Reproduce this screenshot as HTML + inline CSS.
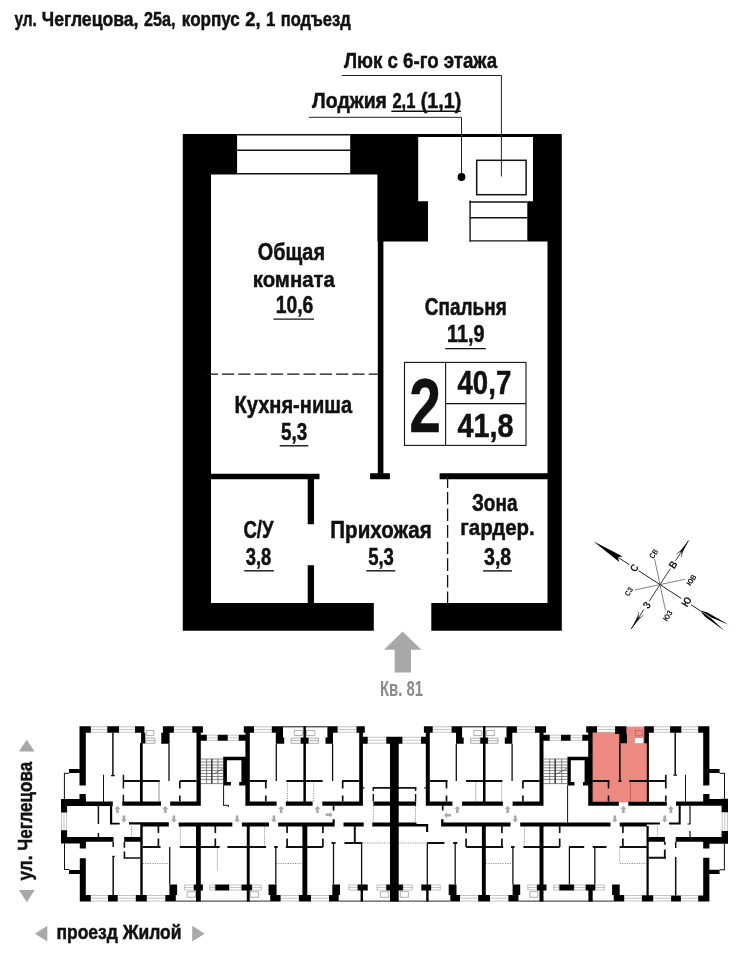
<!DOCTYPE html>
<html lang="ru"><head><meta charset="utf-8"><title>План квартиры 81</title>
<style>
html,body{margin:0;padding:0;background:#fff;}
svg{display:block;will-change:transform;}
text{font-family:'Liberation Sans', sans-serif;font-weight:bold;}
</style></head><body>
<svg width="744" height="960" viewBox="0 0 744 960">
<rect width="744" height="960" fill="#fff"/>
<g fill="#000">
<path d="M182.80,134.00H211.00V630.80H182.80ZM182.80,134.00H237.10V174.40H182.80ZM350.20,134.00H418.20V174.40H350.20ZM377.40,174.40H418.20V201.20H377.40ZM377.40,201.20H428.00V241.50H377.40ZM377.80,241.50H383.40V479.30H377.80ZM370.10,473.30H389.90V479.30H370.10ZM418.20,134.00H561.80V137.10H418.20ZM533.00,134.00H561.80V201.20H533.00ZM527.30,201.20H561.80V241.50H527.30ZM547.50,241.50H561.80V630.80H547.50ZM211.00,473.70H319.50V479.30H211.00ZM307.70,479.30H314.00V524.30H307.70ZM307.70,565.20H314.00V603.00H307.70ZM439.60,473.30H548.00V479.30H439.60ZM182.80,603.00H373.80V630.80H182.80ZM431.30,603.00H561.80V630.80H431.30Z"/>
</g>
<line x1="237.10" y1="134.70" x2="350.20" y2="134.70" stroke="#111" stroke-width="1.4"/>
<line x1="237.10" y1="150.20" x2="350.20" y2="150.20" stroke="#111" stroke-width="1.4"/>
<line x1="237.10" y1="173.80" x2="350.20" y2="173.80" stroke="#111" stroke-width="1.4"/>
<line x1="469.50" y1="202.00" x2="527.30" y2="202.00" stroke="#111" stroke-width="1.5"/>
<line x1="469.50" y1="217.80" x2="527.30" y2="217.80" stroke="#111" stroke-width="1.5"/>
<line x1="469.50" y1="240.90" x2="527.30" y2="240.90" stroke="#111" stroke-width="1.3"/>
<line x1="470.10" y1="200.50" x2="470.10" y2="241.50" stroke="#111" stroke-width="1.4"/>
<rect x="476.7" y="160.3" width="49.4" height="34.4" fill="none" stroke="#111" stroke-width="1.5"/>
<polyline points="341.8,75.5 501.4,75.5 501.4,176.5" fill="none" stroke="#222" stroke-width="1"/>
<polyline points="309,117.3 461.5,117.3 461.5,177" fill="none" stroke="#222" stroke-width="1"/>
<circle cx="461.5" cy="177" r="3.9" fill="#000"/>
<line x1="205.70" y1="374.10" x2="377.80" y2="374.10" stroke="#111" stroke-width="1.3" stroke-dasharray="12.2 4.1"/>
<line x1="447.60" y1="475.30" x2="447.60" y2="603.00" stroke="#111" stroke-width="1.3" stroke-dasharray="12.6 4"/>
<line x1="391.30" y1="111.20" x2="460.90" y2="111.20" stroke="#111" stroke-width="1.4"/>
<line x1="273.50" y1="319.10" x2="314.00" y2="319.10" stroke="#111" stroke-width="1.4"/>
<line x1="445.20" y1="348.60" x2="485.80" y2="348.60" stroke="#111" stroke-width="1.4"/>
<line x1="279.70" y1="445.80" x2="308.30" y2="445.80" stroke="#111" stroke-width="1.4"/>
<line x1="244.20" y1="570.80" x2="273.80" y2="570.80" stroke="#111" stroke-width="1.4"/>
<line x1="366.40" y1="570.80" x2="395.20" y2="570.80" stroke="#111" stroke-width="1.4"/>
<line x1="483.10" y1="570.90" x2="511.90" y2="570.90" stroke="#111" stroke-width="1.4"/>
<rect x="404.5" y="362.4" width="121.5" height="83" fill="#fff" stroke="#111" stroke-width="1.1"/>
<line x1="445.60" y1="362.40" x2="445.60" y2="445.40" stroke="#111" stroke-width="1.1"/>
<line x1="445.60" y1="403.60" x2="526.00" y2="403.60" stroke="#111" stroke-width="1.1"/>
<polygon points="402.6,631.4 421.4,649.7 411,649.7 411,672.4 394.7,672.4 394.7,649.7 384,649.7" fill="#a8a8a8"/>
<text transform="translate(14.40,26.30) scale(0.7767,1)" font-size="19.91" fill="#111" stroke="#111" stroke-width="0.5">ул.</text>
<text transform="translate(41.86,26.30) scale(0.8413,1)" font-size="20.93" fill="#111" stroke="#111" stroke-width="0.5">Чеглецова,</text>
<text transform="translate(143.90,26.30) scale(0.7743,1)" font-size="20.93" fill="#111" stroke="#111" stroke-width="0.5">25а,</text>
<text transform="translate(181.84,26.30) scale(0.8571,1)" font-size="19.91" fill="#111" stroke="#111" stroke-width="0.5">корпус</text>
<text transform="translate(245.20,26.30) scale(0.8776,1)" font-size="20.93" fill="#111" stroke="#111" stroke-width="0.5">2,</text>
<text transform="translate(265.90,26.30) scale(0.8000,1)" font-size="20.93" fill="#111" stroke="#111" stroke-width="0.5">1</text>
<text transform="translate(280.67,26.30) scale(0.8308,1)" font-size="19.91" fill="#111" stroke="#111" stroke-width="0.5">подъезд</text>
<text transform="translate(343.90,68.00) scale(0.8134,1)" font-size="22.97" fill="#111" stroke="#111" stroke-width="0.5">Люк с 6-го этажа</text>
<text transform="translate(312.10,107.50) scale(0.8493,1)" font-size="22.97" fill="#111" stroke="#111" stroke-width="0.5">Лоджия</text>
<text transform="translate(392.40,107.50) scale(0.7218,1)" font-size="22.97" fill="#111" stroke="#111" stroke-width="0.5">2,1</text>
<text transform="translate(420.74,107.50) scale(0.8584,1)" font-size="22.97" fill="#111" stroke="#111" stroke-width="0.5">(1,1)</text>
<text transform="translate(257.70,260.00) scale(0.8229,1)" font-size="24.13" fill="#111" stroke="#111" stroke-width="0.5">Общая</text>
<text transform="translate(252.71,286.50) scale(0.8872,1)" font-size="22.97" fill="#111" stroke="#111" stroke-width="0.5">комната</text>
<text transform="translate(275.69,313.20) scale(0.8111,1)" font-size="23.84" fill="#111" stroke="#111" stroke-width="0.5">10,6</text>
<text transform="translate(424.80,315.30) scale(0.7868,1)" font-size="24.13" fill="#111" stroke="#111" stroke-width="0.5">Спальня</text>
<text transform="translate(446.97,342.40) scale(0.8309,1)" font-size="23.84" fill="#111" stroke="#111" stroke-width="0.5">11,9</text>
<text transform="translate(234.47,412.50) scale(0.8321,1)" font-size="24.13" fill="#111" stroke="#111" stroke-width="0.5">Кухня-ниша</text>
<text transform="translate(281.00,439.70) scale(0.7879,1)" font-size="23.84" fill="#111" stroke="#111" stroke-width="0.5">5,3</text>
<text transform="translate(243.40,537.50) scale(0.7704,1)" font-size="24.13" fill="#111" stroke="#111" stroke-width="0.5">С/У</text>
<text transform="translate(245.70,564.60) scale(0.7727,1)" font-size="23.84" fill="#111" stroke="#111" stroke-width="0.5">3,8</text>
<text transform="translate(330.35,537.50) scale(0.8521,1)" font-size="24.13" fill="#111" stroke="#111" stroke-width="0.5">Прихожая</text>
<text transform="translate(368.20,564.60) scale(0.7757,1)" font-size="23.84" fill="#111" stroke="#111" stroke-width="0.5">5,3</text>
<text transform="translate(471.90,511.40) scale(0.7878,1)" font-size="24.13" fill="#111" stroke="#111" stroke-width="0.5">Зона</text>
<text transform="translate(460.31,535.00) scale(0.8899,1)" font-size="22.97" fill="#111" stroke="#111" stroke-width="0.5">гардер.</text>
<text transform="translate(484.00,565.20) scale(0.8214,1)" font-size="23.84" fill="#111" stroke="#111" stroke-width="0.5">3,8</text>
<text transform="translate(409.29,431.90) scale(0.7526,1)" font-size="75.73" fill="#111" stroke="#111" stroke-width="0.5">2</text>
<text transform="translate(457.50,394.40) scale(0.8297,1)" font-size="33.29" fill="#111" stroke="#111" stroke-width="0.5">40,7</text>
<text transform="translate(457.50,437.00) scale(0.8670,1)" font-size="33.29" fill="#111" stroke="#111" stroke-width="0.5">41,8</text>
<text transform="translate(380.00,696.30) scale(0.7031,1)" font-size="21.22" fill="#8a8a8a" stroke="#8a8a8a" stroke-width="0">Кв. 81</text>
<text transform="translate(56.46,938.90) scale(0.8409,1)" font-size="20.79" fill="#111" stroke="#111" stroke-width="0.5">проезд Жилой</text>
<text transform="translate(32.40,880.40) rotate(-90) scale(0.8218,1)" font-size="20.79" fill="#111" stroke="#111" stroke-width="0.5">ул. Чеглецова</text>
<g transform="translate(660.0,584.6) rotate(-57.0)" stroke="#222" fill="none" stroke-width="0.9">
<path d="M0,-50 L0,-36.5 M0,-25.5 L0,25.5 M0,37 L0,48"/>
<path d="M52.5,0 L28.5,0 M19,0 L-20,0 M-29.5,0 L-53,0" stroke-width="0.8"/>
<line x1="0" y1="0" x2="18.38" y2="-18.38" stroke-width="0.6" stroke="#444"/>
<line x1="0" y1="0" x2="18.38" y2="18.38" stroke-width="0.6" stroke="#444"/>
<line x1="0" y1="0" x2="-18.38" y2="18.38" stroke-width="0.6" stroke="#444"/>
<line x1="0" y1="0" x2="-18.38" y2="-18.38" stroke-width="0.6" stroke="#444"/>
<polygon points="0,-79.5 3.2,-46.5 0,-50.5 -3.2,-46.5" fill="#000" stroke="none"/>
<polygon points="0,47.3 2.4,55 3.7,79.6 0.45,61" fill="#000" stroke="none"/>
<polygon points="0,47.3 -2.4,55 -3.7,79.6 -0.45,61" fill="#000" stroke="none"/>
<polygon points="52.5,0 37,1.5 40,0 37,-1.5" fill="#000" stroke="none"/>
<polygon points="-53,0 -37,1.5 -40,0 -37,-1.5" fill="#000" stroke="none"/>
<path d="M43,0 L34.5,2.8 M43,0 L34.5,-2.8 M-43,0 L-34.5,2.8 M-43,0 L-34.5,-2.8" stroke-width="0.6"/>
<text transform="translate(0,-27.1) scale(0.88,1)" font-size="10.6" font-weight="bold" text-anchor="middle" fill="#111" stroke="none">С</text>
<text transform="translate(0,35.3) scale(0.88,1)" font-size="10.6" font-weight="bold" text-anchor="middle" fill="#111" stroke="none">Ю</text>
<text transform="translate(23.8,3.7) scale(0.88,1)" font-size="10.6" font-weight="bold" text-anchor="middle" fill="#111" stroke="none">В</text>
<text transform="translate(-24.3,3.7) scale(0.88,1)" font-size="10.6" font-weight="bold" text-anchor="middle" fill="#111" stroke="none">З</text>
<text transform="translate(22.40,-19.40) scale(0.84,1)" font-size="7.8" font-weight="bold" text-anchor="middle" fill="#111" stroke="none">СВ</text>
<text transform="translate(20.90,26.50) scale(0.84,1)" font-size="7.8" font-weight="bold" text-anchor="middle" fill="#111" stroke="none">ЮВ</text>
<text transform="translate(-21.80,26.10) scale(0.84,1)" font-size="7.8" font-weight="bold" text-anchor="middle" fill="#111" stroke="none">ЮЗ</text>
<text transform="translate(-22.80,-19.70) scale(0.84,1)" font-size="7.8" font-weight="bold" text-anchor="middle" fill="#111" stroke="none">СЗ</text>
</g>
<polygon points="26.7,739.7 34.6,751.6 18.9,751.6" fill="#a8a8a8"/>
<polygon points="18.9,890 34.6,890 26.9,902.2" fill="#a8a8a8"/>
<polygon points="34.9,933.7 47.3,925.8 47.3,941.6" fill="#a8a8a8"/>
<polygon points="204.6,933.7 192.2,925.8 192.2,941.6" fill="#a8a8a8"/>
<g id="building">
<g fill="#ec8a82"><rect x="592" y="732" width="55.5" height="70.4"/><rect x="626" y="726.6" width="18.8" height="17"/></g>
<rect x="634.9" y="738" width="8" height="5.2" fill="#fff"/>
<rect x="635.6" y="730.6" width="6.8" height="5.2" fill="none" stroke="#c8605c" stroke-width="0.8"/>
<path d="M630.4,782V802" stroke="#b4524e" stroke-width="0.8"/>
<path d="M90.8,726.8H107.3M90.8,732.2H107.3M90.8,729.5H107.3M119.0,726.8H135.0M119.0,732.2H135.0M119.0,729.5H135.0M173.9,726.8H192.3M173.9,732.2H192.3M173.9,729.5H192.3M254.0,726.8H271.8M254.0,732.2H271.8M254.0,729.5H271.8M337.6,726.8H356.5M337.6,732.2H356.5M337.6,729.5H356.5M432.7,726.8H451.6M432.7,732.2H451.6M432.7,729.5H451.6M516.9,726.8H535.0M516.9,732.2H535.0M516.9,729.5H535.0M597.0,726.8H615.1M597.0,732.2H615.1M597.0,729.5H615.1M653.8,726.8H670.1M653.8,732.2H670.1M653.8,729.5H670.1M681.3,726.8H698.2M681.3,732.2H698.2M681.3,729.5H698.2M206.8,735.2H217.7M206.8,740.3H217.7M206.8,737.8H217.7M227.7,735.2H238.7M227.7,740.3H238.7M227.7,737.8H238.7M549.7,735.2H561.0M549.7,740.3H561.0M549.7,737.8H561.0M570.6,735.2H582.3M570.6,740.3H582.3M570.6,737.8H582.3M367.7,737.3H386.3M367.7,743.2H386.3M367.7,740.2H386.3M402.4,737.3H421.0M402.4,743.2H421.0M402.4,740.2H421.0M90.8,895.5H108.0M90.8,901.0H108.0M90.8,898.2H108.0M117.7,895.5H135.8M117.7,901.0H135.8M117.7,898.2H135.8M146.8,895.5H165.3M146.8,901.0H165.3M146.8,898.2H165.3M280.6,895.5H298.9M280.6,901.0H298.9M280.6,898.2H298.9M311.0,895.5H329.0M311.0,901.0H329.0M311.0,898.2H329.0M460.0,895.5H478.2M460.0,901.0H478.2M460.0,898.2H478.2M490.0,895.5H508.4M490.0,901.0H508.4M490.0,898.2H508.4M624.2,895.5H641.9M624.2,901.0H641.9M624.2,898.2H641.9M653.2,895.5H671.1M653.2,901.0H671.1M653.2,898.2H671.1M680.9,895.5H698.2M680.9,901.0H698.2M680.9,898.2H698.2M184.2,885.0H193.9M184.2,890.0H193.9M184.2,887.5H193.9M184.6,885V890M193.5,885V890M209.4,885.0H215.3M209.4,890.0H215.3M209.4,887.5H215.3M209.8,885V890M214.9,885V890M229.0,885.0H241.6M229.0,890.0H241.6M229.0,887.5H241.6M229.4,885V890M241.2,885V890M251.9,885.0H261.6M251.9,890.0H261.6M251.9,887.5H261.6M252.3,885V890M261.2,885V890M348.4,885.0H357.7M348.4,890.0H357.7M348.4,887.5H357.7M348.8,885V890M357.3,885V890M376.6,885.0H386.3M376.6,890.0H386.3M376.6,887.5H386.3M377.0,885V890M385.9,885V890M402.9,885.0H412.6M402.9,890.0H412.6M402.9,887.5H412.6M403.3,885V890M412.2,885V890M431.0,885.0H440.6M431.0,890.0H440.6M431.0,887.5H440.6M431.4,885V890M440.2,885V890M527.4,885.0H537.1M527.4,890.0H537.1M527.4,887.5H537.1M527.8,885V890M536.7,885V890M553.5,885.0H559.4M553.5,890.0H559.4M553.5,887.5H559.4M553.9,885V890M559.0,885V890M573.9,885.0H585.8M573.9,890.0H585.8M573.9,887.5H585.8M574.3,885V890M585.4,885V890M595.2,885.0H604.8M595.2,890.0H604.8M595.2,887.5H604.8M595.6,885V890M604.4,885V890" stroke="#b5b5b5" stroke-width="0.8" fill="none"/>
<path d="M61.6,812.4V830.2M64,812.4V830.2M66.6,812.4V830.2M722.2,812.2V831M724.8,812.2V831M727.5,812.2V831" stroke="#b5b5b5" stroke-width="0.8" fill="none"/>
<path d="M291.1,738.2H300.8V743.3H291.1ZM291.1,740.7H300.8M308.4,738.2H318.5V743.3H308.4ZM308.4,740.7H318.5M470.6,738.2H480.3V743.3H470.6ZM470.6,740.7H480.3M487.9,738.2H498.0V743.3H487.9ZM487.9,740.7H498.0M145.3,738.2H155.0V743.3H145.3ZM145.3,740.7H155.0M294.4,730.5H302.4V735.6H294.4ZM306.5,730.5H314.8V735.6H306.5ZM473.9,730.5H481.9V735.6H473.9ZM486.3,730.5H494.4V735.6H486.3ZM146.3,730.5H153.8V735.6H146.3ZM187.1,891.7H195.5V897.3H187.1ZM250.3,891.7H258.4V897.3H250.3ZM380.3,891.7H388.7V897.3H380.3ZM400.3,891.7H408.4V897.3H400.3ZM529.8,891.7H537.9V897.3H529.8Z" stroke="#999" stroke-width="0.8" fill="none"/>
<path d="M200.8,759.0H223.2M200.8,762.0H223.2M200.8,765.0H223.2M200.8,767.8H223.2M200.8,770.6H223.2M200.8,773.5H223.2M200.8,776.5H223.2M200.8,779.4H223.2M200.8,783.6H223.2M206.6,759V783.6M211.8,759V783.6M217.9,759V783.6" stroke="#555" stroke-width="0.7" fill="none"/><path d="M211.8,759V783.6" stroke="#333" stroke-width="1.3" fill="none"/><path d="M213.4,774.2L222.8,768.5" stroke="#444" stroke-width="0.7" fill="none"/>
<path d="M543.5,759.0H567.3M543.5,762.0H567.3M543.5,765.0H567.3M543.5,767.8H567.3M543.5,770.6H567.3M543.5,773.5H567.3M543.5,776.5H567.3M543.5,779.4H567.3M543.5,783.6H567.3M549.7,759V783.6M555.2,759V783.6M561.7,759V783.6" stroke="#555" stroke-width="0.7" fill="none"/><path d="M555.2,759V783.6" stroke="#333" stroke-width="1.3" fill="none"/><path d="M556.1,774.2L566.9,768.5" stroke="#444" stroke-width="0.7" fill="none"/>
<path d="M158.6,781.0V801.6M159.5,781.0V801.6M475.8,781.0V801.6M501.6,781.0V801.6M217.4,847.0V870.8M630.0,847.1H646.5" stroke="#b5b5b5" stroke-width="0.8" fill="none"/>
<path d="M287.4,781.0V801.6M313.7,781.0V801.6M131.5,826.5V837.3M180.3,826.5V847.0M264.5,826.5V847.0M524.5,826.5V847.0M373.4,806.0V822.4M415.5,806.0V822.4M657.5,826.5V837.0M619.7,847.0V863.5M142.7,863.5H169.7M275.8,863.5H302.4M485.8,863.5H512.9M619.7,863.5H646.5M362.3,843.0H427.1" stroke="#777" stroke-width="0.8" stroke-dasharray="1.2 1.2" fill="none"/>
<path d="M112.9,732.7V775.5M123.4,774.7V788.4M123.4,794.8V803.0M675.2,732.7V775.0M98.4,806.0V824.0M98.4,832.9V837.3M113.2,841.8V847.0M113.2,856.0V895.0M675.7,841.7V847.9M675.7,857.0V895.4" stroke="#111" stroke-width="1.5" fill="none"/>
<path d="M111.0,775.6H114.8M673.3,775.2H677.1M362.9,787.9H364.5M424.2,787.9H425.8M690.0,805.7V824.0M690.0,831.0V837.1" stroke="#111" stroke-width="1.2" fill="none"/>
<path d="M103.5,774.7V803.0M685.5,774.7V801.6M223.6,785.5V805.6M223.2,805.3H228.6M228.3,805.0V807.0M567.6,785.5V822.4M283.0,726.8H327.4M462.0,726.8H506.5M112.4,856.3H115.0M687.5,824.0H690.5M64.4,773.0V799.8M64.0,773.3H69.0M64.5,843.4V869.8M64.0,869.5H69.2M724.5,773.0V798.8M719.6,773.3H725.0M724.4,843.7V870.0M719.6,869.8H724.9" stroke="#111" stroke-width="1.0" fill="none"/>
<path d="M123.4,781.0H159.7M179.8,781.0H196.5M249.7,781.0H267.0M286.3,781.0H322.6M342.0,781.0H359.4M429.8,781.0H447.6M466.1,781.0H502.4M522.6,781.0H539.5M592.6,781.0H609.5M629.2,781.0H666.2M618.4,781.0H621.4M354.8,826.0V843.0" stroke="#111" stroke-width="2" fill="none"/>
<path d="M179.8,781.0V788.4M179.8,795.6V801.6M265.8,781.0V788.4M265.8,795.6V801.6M342.7,781.0V788.4M342.7,795.6V801.6M446.5,781.0V788.4M446.5,795.6V801.6M522.9,781.0V788.4M522.9,795.6V801.6M608.5,781.0V788.4M608.5,795.6V801.6M665.8,774.7V788.4M665.8,795.6V801.6M158.4,826.0V833.0M158.4,838.5V847.0M215.3,826.0V833.0M215.3,838.5V847.0M287.1,826.0V833.0M287.1,838.5V847.0M322.9,826.0V833.0M322.9,838.5V847.0M501.9,826.0V833.0M501.9,838.5V847.0M559.7,826.0V833.0M559.7,838.5V847.0M622.9,826.0V833.0M622.9,838.5V847.0M466.1,826.0V833.0M466.1,838.5V847.0" stroke="#111" stroke-width="1.7" fill="none"/>
<path d="M169.0,743.7V781.0M276.3,743.7V781.0M332.6,743.7V781.0M456.3,743.7V781.0M512.1,743.7V781.0M169.7,847.0V884.5M275.8,847.0V884.5M512.9,847.0V884.5M569.4,847.0V884.5M594.8,847.0V884.5M333.5,843.0V884.5M455.2,843.0V884.5M361.6,843.0V891.0M427.3,843.0V891.0" stroke="#111" stroke-width="1.3" fill="none"/>
<path d="M619.9,743.2V781.3M124.4,841.8V847.8M124.4,851.6V858.8M123.6,858.0H140.3" stroke="#111" stroke-width="1.6" fill="none"/>
<path d="M372.6,787.9H416.4M664.8,841.7V844.8M664.8,849.6V858.2" stroke="#111" stroke-width="1.8" fill="none"/>
<path d="M373.3,787.9V791.0M373.3,794.0V801.6M415.6,787.9V791.0M415.6,794.0V801.6" stroke="#111" stroke-width="1.4" fill="none"/>
<path d="M142.7,847.0H160.5M179.8,847.0H219.7M227.4,847.0H266.1M274.2,847.0H277.7M285.8,847.0H322.9M466.1,847.0H503.2M511.0,847.0H514.5M523.4,847.0H559.7M569.0,847.0H584.2M592.7,847.0H606.5M619.7,847.0H646.8M331.5,843.0H335.5M344.4,843.0H362.3M427.1,843.0H444.4M453.2,843.0H457.3M648.7,857.7H666.0" stroke="#111" stroke-width="1.9" fill="none"/>
<path d="M175.8,901.1H270.2M338.7,901.1H450.3M518.5,901.1H613.7" stroke="#111" stroke-width="0.9" fill="none"/>
<path fill="#000" d="M79.5,726.3H85.8V785.5H79.5ZM79.5,794.0H85.8V801.6H79.5ZM79.5,726.3H90.8V732.7H79.5ZM107.3,726.3H119.0V732.7H107.3ZM135.0,726.3H144.4V732.7H135.0ZM141.1,732.7H145.2V743.4H141.1ZM140.0,743.0H142.7V803.0H140.0ZM162.9,726.3H173.9V732.7H162.9ZM161.3,732.7H169.6V743.7H161.3ZM196.5,726.3H200.8V805.6H196.5ZM192.3,726.3H202.9V732.7H192.3ZM200.8,734.7H206.8V740.8H200.8ZM217.7,734.7H227.7V740.8H217.7ZM238.7,734.7H245.8V740.8H238.7ZM245.4,726.3H249.8V805.6H245.4ZM243.8,726.3H254.0V732.7H243.8ZM223.2,756.8H245.4V760.2H223.2ZM223.2,756.8H226.9V785.5H223.2ZM223.2,781.9H230.9V785.5H223.2ZM239.2,781.9H245.4V785.5H239.2ZM241.4,756.8H245.4V785.5H241.4ZM271.8,726.3H283.0V732.7H271.8ZM275.8,732.7H283.0V737.6H275.8ZM275.8,737.6H284.2V743.7H275.8ZM303.4,726.3H305.9V805.6H303.4ZM300.8,737.6H308.4V743.7H300.8ZM327.4,726.3H337.6V732.7H327.4ZM327.4,732.7H333.0V737.6H327.4ZM325.5,737.6H333.0V743.7H325.5ZM356.5,726.3H364.8V732.7H356.5ZM359.2,726.3H362.9V805.6H359.2ZM359.2,736.8H367.7V743.7H359.2ZM386.3,736.8H402.4V743.7H386.3ZM390.0,743.7H398.7V901.5H390.0ZM421.0,736.8H429.8V743.7H421.0ZM425.8,726.3H429.8V805.6H425.8ZM423.9,726.3H432.7V732.7H423.9ZM451.6,726.3H462.1V732.7H451.6ZM456.0,732.7H462.1V737.6H456.0ZM456.0,737.6H463.7V743.7H456.0ZM483.0,726.3H485.5V805.6H483.0ZM480.3,737.6H487.9V743.7H480.3ZM506.5,726.3H516.9V732.7H506.5ZM506.5,732.7H512.3V737.6H506.5ZM504.8,737.6H512.3V743.7H504.8ZM535.0,726.3H546.0V732.7H535.0ZM539.5,726.3H543.5V805.6H539.5ZM543.5,734.7H549.7V740.8H543.5ZM561.0,734.7H570.6V740.8H561.0ZM582.3,734.7H588.7V740.8H582.3ZM588.2,726.3H592.6V805.6H588.2ZM586.2,726.3H597.0V732.6H586.2ZM567.4,756.8H588.2V760.2H567.4ZM567.4,756.8H570.8V785.5H567.4ZM567.4,781.9H574.5V785.5H567.4ZM583.0,781.9H588.2V785.5H583.0ZM584.6,756.8H588.2V785.5H584.6ZM615.1,726.3H626.4V734.0H615.1ZM619.3,734.0H626.9V743.2H619.3ZM644.3,726.3H653.8V732.7H644.3ZM644.3,732.7H648.9V743.3H644.3ZM646.8,743.3H648.9V805.6H646.8ZM670.1,726.3H681.3V732.7H670.1ZM698.2,726.3H709.4V732.7H698.2ZM703.2,726.3H709.4V785.5H703.2ZM703.2,794.0H709.4V801.6H703.2ZM69.0,769.0H79.5V773.0H69.0ZM709.4,769.0H719.6V773.0H709.4ZM61.0,799.1H86.0V806.0H61.0ZM86.0,801.5H112.8V806.0H86.0ZM122.3,801.6H161.0V805.8H122.3ZM170.2,801.6H200.8V805.8H170.2ZM245.4,801.6H276.6V805.8H245.4ZM285.8,801.6H312.6V805.8H285.8ZM322.3,801.6H362.9V805.8H322.3ZM373.4,801.6H416.1V805.8H373.4ZM425.8,801.6H452.4V805.8H425.8ZM462.1,801.6H502.9V805.8H462.1ZM512.6,801.6H543.5V805.8H512.6ZM588.2,801.8H618.8V805.8H588.2ZM628.3,801.8H666.8V805.8H628.3ZM676.0,801.6H703.2V805.8H676.0ZM703.2,799.0H728.0V805.8H703.2ZM332.7,805.8H334.4V810.5H332.7ZM441.9,805.8H443.5V810.5H441.9ZM61.0,799.1H67.1V812.6H61.0ZM61.0,830.3H67.1V843.5H61.0ZM61.0,837.0H86.0V843.5H61.0ZM86.0,837.0H113.5V841.8H86.0ZM124.2,837.0H141.9V841.8H124.2ZM79.8,841.8H85.9V848.6H79.8ZM79.8,858.2H85.8V901.5H79.8ZM69.0,870.0H79.8V874.0H69.0ZM709.4,869.8H719.6V874.0H709.4ZM110.0,806.0H112.2V824.5H110.0ZM110.0,822.7H119.7V824.6H110.0ZM129.0,822.3H140.5V824.6H129.0ZM140.3,822.3H168.8V826.4H140.3ZM178.7,822.4H232.3V826.5H178.7ZM241.9,822.4H269.0V826.5H241.9ZM278.2,822.4H334.7V826.5H278.2ZM343.5,822.4H363.7V826.5H343.5ZM372.3,822.4H416.5V826.5H372.3ZM416.5,824.0H428.2V826.5H416.5ZM426.1,826.0H428.2V832.0H426.1ZM441.1,822.4H510.5V826.5H441.1ZM520.2,822.4H610.5V826.5H520.2ZM619.7,822.4H646.8V826.5H619.7ZM646.8,822.5H659.9V824.6H646.8ZM332.6,819.2H334.7V826.5H332.6ZM441.1,819.2H443.5V826.5H441.1ZM140.3,826.0H142.7V901.5H140.3ZM196.0,822.4H200.8V901.5H196.0ZM246.8,826.0H249.7V901.5H246.8ZM302.4,826.0H307.3V901.5H302.4ZM481.9,826.0H485.8V901.5H481.9ZM539.5,822.4H543.5V901.5H539.5ZM646.5,826.0H648.7V895.4H646.5ZM721.6,798.8H728.0V812.2H721.6ZM721.6,831.0H728.0V843.7H721.6ZM675.7,837.1H703.2V841.7H675.7ZM703.2,837.1H728.0V843.7H703.2ZM648.1,837.1H664.9V841.7H648.1ZM678.7,805.7H680.7V824.5H678.7ZM669.1,822.4H680.7V824.5H669.1ZM703.2,841.7H709.4V848.6H703.2ZM703.2,857.8H709.4V901.5H703.2ZM79.8,895.0H90.8V901.5H79.8ZM108.0,895.0H117.7V901.5H108.0ZM135.8,895.0H146.8V901.5H135.8ZM165.3,895.0H175.8V901.5H165.3ZM169.4,884.5H177.1V895.0H169.4ZM193.9,884.5H202.9V890.5H193.9ZM215.3,884.5H229.0V890.5H215.3ZM241.6,884.5H251.9V890.5H241.6ZM268.5,884.5H276.6V895.0H268.5ZM270.2,895.0H280.6V901.5H270.2ZM298.9,895.0H311.0V901.5H298.9ZM329.0,895.0H338.7V901.5H329.0ZM332.3,884.5H340.0V895.0H332.3ZM357.7,884.5H367.7V890.5H357.7ZM386.3,884.5H402.9V890.5H386.3ZM421.3,884.5H431.0V890.5H421.3ZM448.7,884.5H456.5V895.0H448.7ZM450.3,895.0H460.0V901.5H450.3ZM478.2,895.0H490.0V901.5H478.2ZM508.4,895.0H518.5V901.5H508.4ZM512.6,884.5H520.2V895.0H512.6ZM537.1,884.5H546.5V890.5H537.1ZM559.4,884.5H573.9V890.5H559.4ZM585.8,884.5H595.2V890.5H585.8ZM588.4,890.5H592.7V901.5H588.4ZM612.1,884.5H619.7V895.0H612.1ZM613.7,895.0H624.2V901.5H613.7ZM641.9,895.2H653.2V901.5H641.9ZM671.1,895.4H680.9V901.5H671.1ZM698.2,895.4H709.4V901.5H698.2ZM360.6,890.5H363.0V901.5H360.6ZM426.2,890.5H428.6V901.5H426.2Z"/>
<g fill="#a9a9a9"><path d="M117.4,806.0l3,3h-1.7v4h-2.6v-4h-1.7z"/><path d="M165.3,806.0l3,3h-1.7v4h-2.6v-4h-1.7z"/><path d="M281.1,806.0l3,3h-1.7v4h-2.6v-4h-1.7z"/><path d="M317.4,806.0l3,3h-1.7v4h-2.6v-4h-1.7z"/><path d="M457.3,806.0l3,3h-1.7v4h-2.6v-4h-1.7z"/><path d="M507.7,806.0l3,3h-1.7v4h-2.6v-4h-1.7z"/><path d="M623.4,806.0l3,3h-1.7v4h-2.6v-4h-1.7z"/><path d="M670.9,806.0l3,3h-1.7v4h-2.6v-4h-1.7z"/><path d="M123.9,822.5l3,-3h-1.7v-4h-2.6v4h-1.7z"/><path d="M173.9,822.5l3,-3h-1.7v-4h-2.6v4h-1.7z"/><path d="M237.1,822.5l3,-3h-1.7v-4h-2.6v4h-1.7z"/><path d="M273.9,822.5l3,-3h-1.7v-4h-2.6v4h-1.7z"/><path d="M515.3,822.5l3,-3h-1.7v-4h-2.6v4h-1.7z"/><path d="M614.8,822.5l3,-3h-1.7v-4h-2.6v4h-1.7z"/><path d="M664.7,822.5l3,-3h-1.7v-4h-2.6v4h-1.7z"/><path d="M332.6,814.7l-3,3v-1.7h-4v-2.6h4v-1.7z"/><path d="M444.0,815.2l3,3v-1.7h4v-2.6h-4v-1.7z"/></g>
</g>
</svg>
</body></html>
